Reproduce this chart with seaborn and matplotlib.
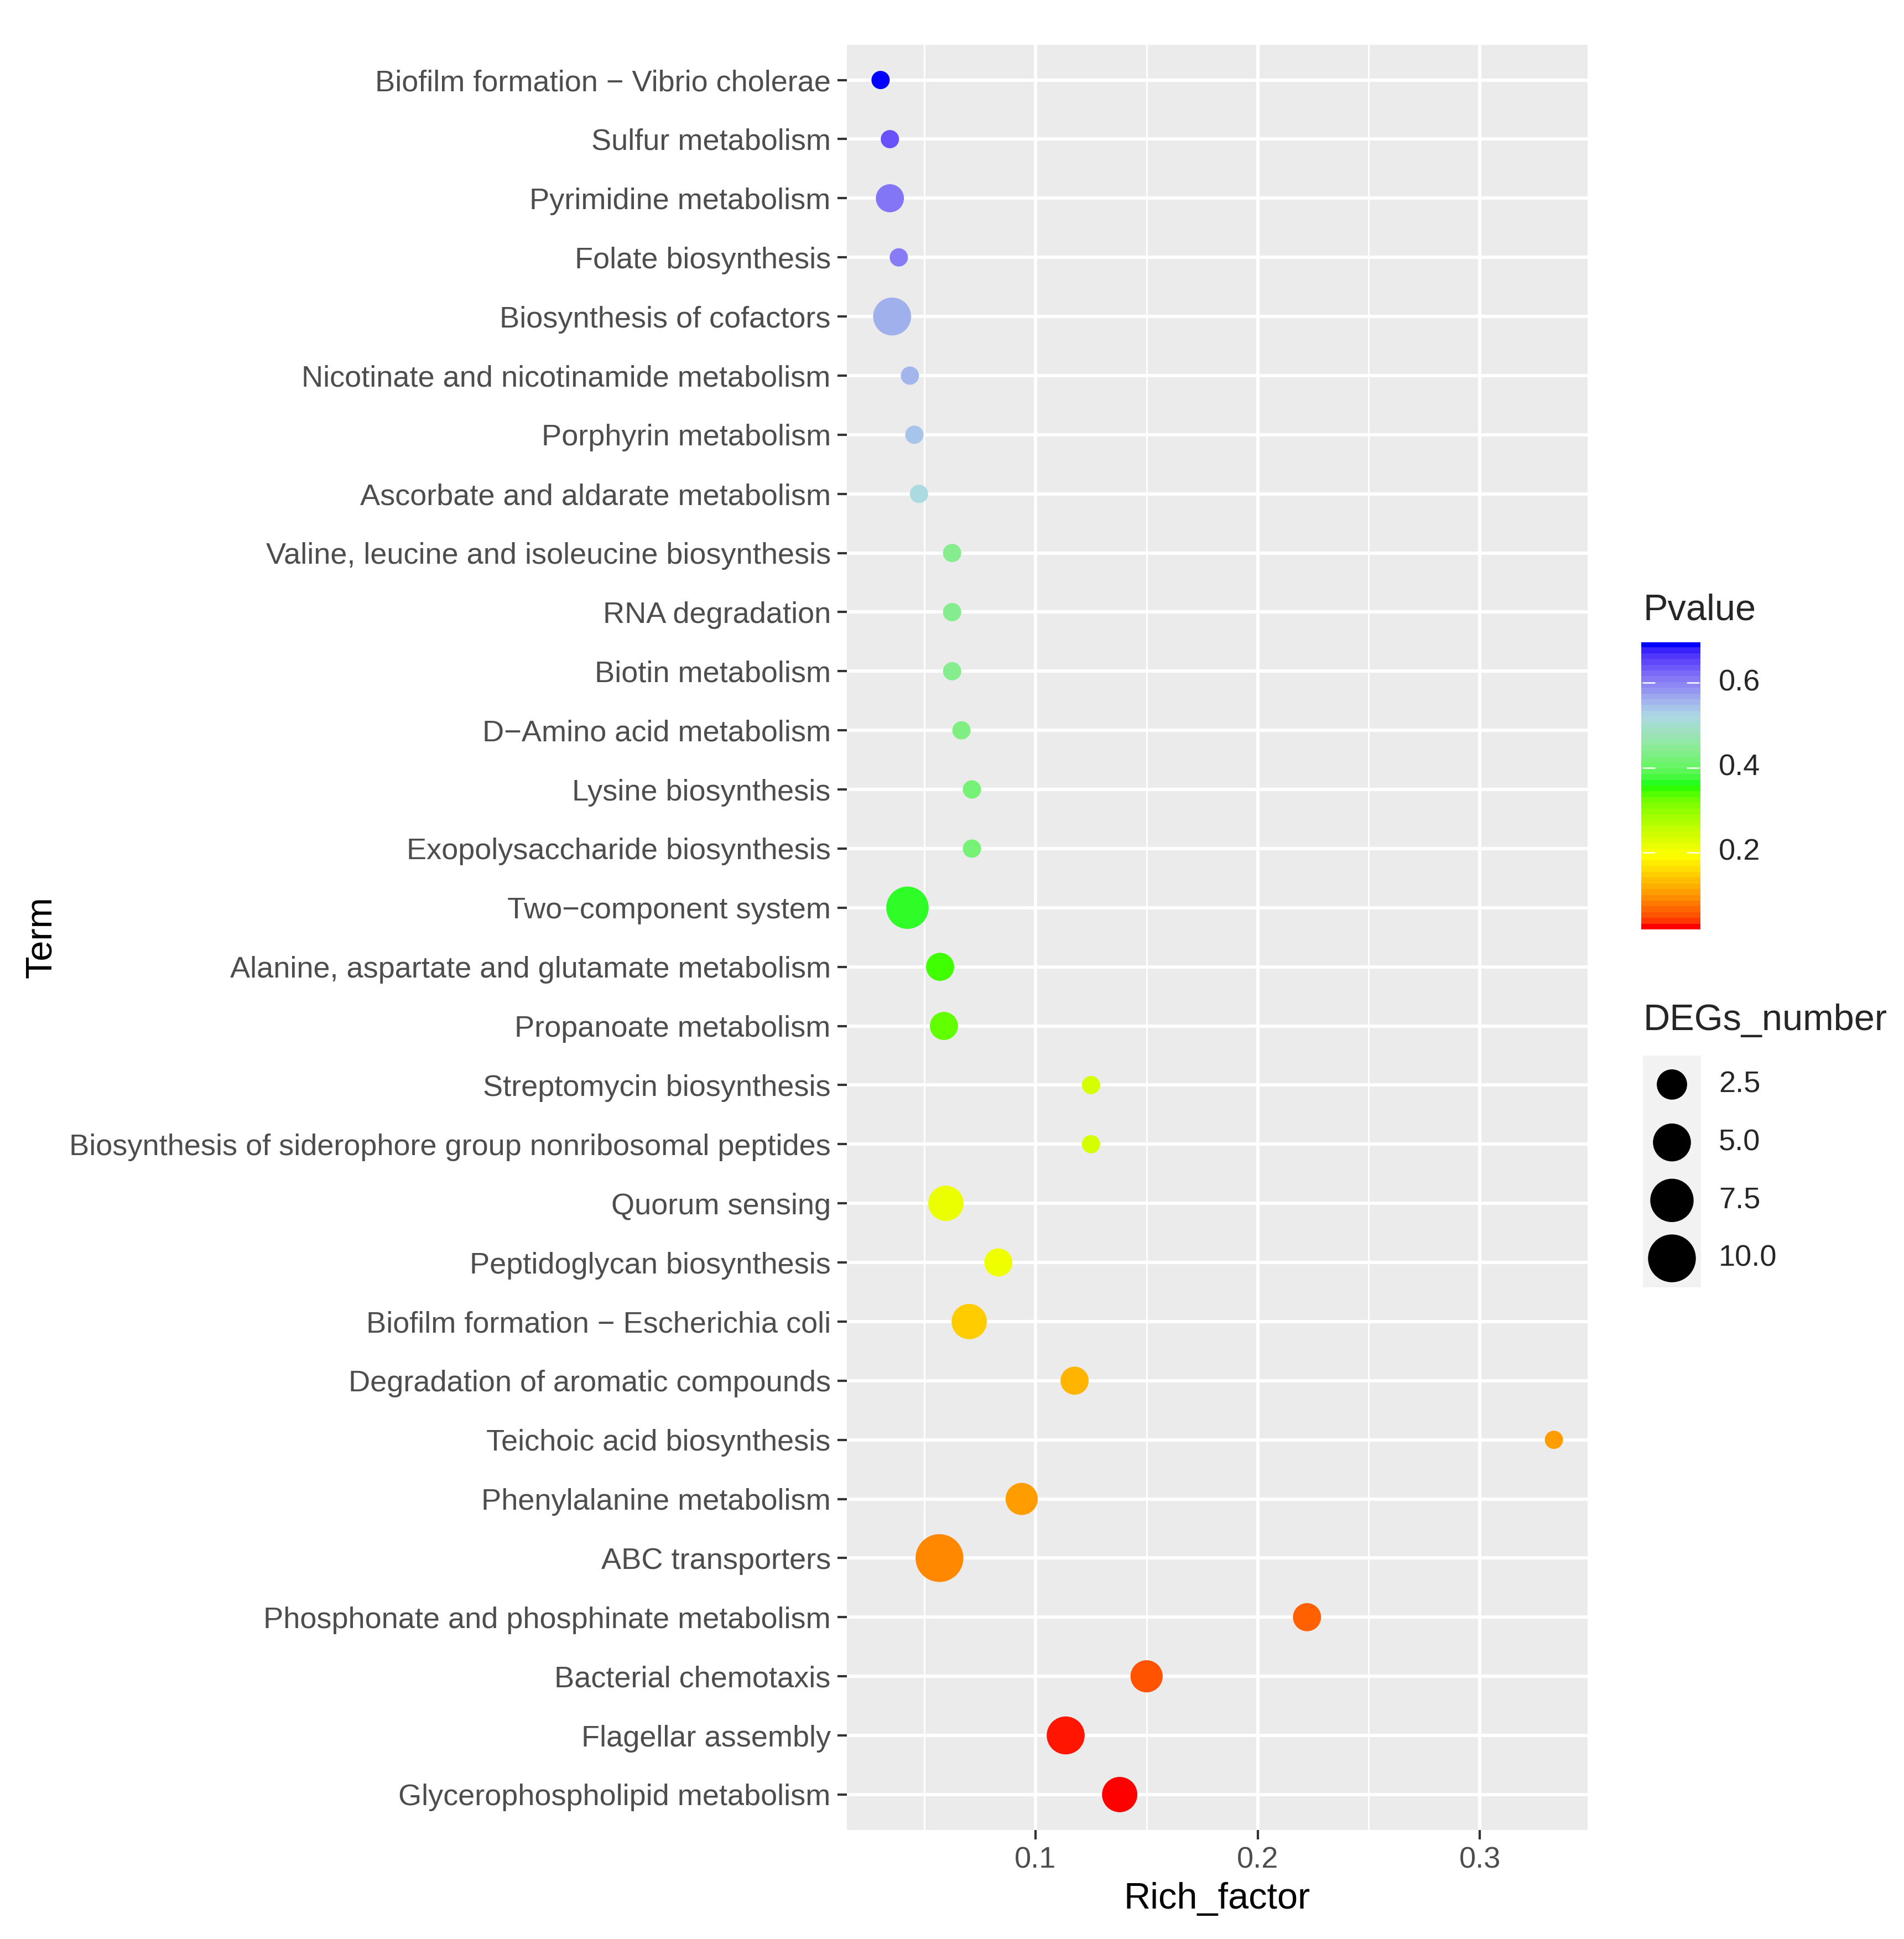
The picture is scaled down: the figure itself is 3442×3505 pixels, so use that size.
import numpy as np
import pandas as pd
import seaborn as sns
import matplotlib
matplotlib.use("Agg")
import matplotlib.pyplot as plt
import matplotlib.colors as mcolors
from matplotlib.ticker import MultipleLocator

# KEGG enrichment bubble chart, terms listed top -> bottom
terms = [
    "Biofilm formation \u2212 Vibrio cholerae",
    "Sulfur metabolism",
    "Pyrimidine metabolism",
    "Folate biosynthesis",
    "Biosynthesis of cofactors",
    "Nicotinate and nicotinamide metabolism",
    "Porphyrin metabolism",
    "Ascorbate and aldarate metabolism",
    "Valine, leucine and isoleucine biosynthesis",
    "RNA degradation",
    "Biotin metabolism",
    "D\u2212Amino acid metabolism",
    "Lysine biosynthesis",
    "Exopolysaccharide biosynthesis",
    "Two\u2212component system",
    "Alanine, aspartate and glutamate metabolism",
    "Propanoate metabolism",
    "Streptomycin biosynthesis",
    "Biosynthesis of siderophore group nonribosomal peptides",
    "Quorum sensing",
    "Peptidoglycan biosynthesis",
    "Biofilm formation \u2212 Escherichia coli",
    "Degradation of aromatic compounds",
    "Teichoic acid biosynthesis",
    "Phenylalanine metabolism",
    "ABC transporters",
    "Phosphonate and phosphinate metabolism",
    "Bacterial chemotaxis",
    "Flagellar assembly",
    "Glycerophospholipid metabolism",
]
rich_factor = [0.0303, 0.0345, 0.0345, 0.0385, 0.0355, 0.0435, 0.0455, 0.0476,
               0.0625, 0.0625, 0.0625, 0.0667, 0.0714, 0.0714, 0.0424, 0.0571,
               0.0588, 0.125, 0.125, 0.0597, 0.0833, 0.0702, 0.1176, 0.3333,
               0.0938, 0.0568, 0.2222, 0.15, 0.1136, 0.1379]
pvalue = [0.696, 0.648, 0.615, 0.61, 0.562, 0.557, 0.543, 0.52,
          0.44, 0.44, 0.44, 0.43, 0.42, 0.42, 0.365, 0.345,
          0.328, 0.235, 0.235, 0.21, 0.205, 0.142, 0.121, 0.10,
          0.098, 0.084, 0.055, 0.045, 0.022, 0.018]
degs = [1, 1, 2, 1, 5, 1, 1, 1, 1, 1, 1, 1, 1, 1, 7, 2, 2, 1, 1, 4,
        2, 4, 2, 1, 3, 10, 2, 3, 5, 4]

size_breaks = [2.5, 5.0, 7.5, 10.0]
p_breaks = [0.2, 0.4, 0.6]
grad_colors = ["#FF0000", "#FFFF00", "#00FF00", "#ADD8E6", "#0000FF"]

df = pd.DataFrame({"Term": terms, "Rich_factor": rich_factor,
                   "Pvalue": pvalue, "DEGs_number": degs})

DPI = 300
W, H = 3442, 3505

# ---- colour ramp interpolated in CIELAB (like ggplot's gradientn) ----
M = np.array([[0.4124564, 0.3575761, 0.1804375],
              [0.2126729, 0.7151522, 0.0721750],
              [0.0193339, 0.1191920, 0.9503041]])
Minv = np.linalg.inv(M)
WHITE = np.array([0.95047, 1.0, 1.08883])
d = 6 / 29


def to_lab(c):
    rgb = np.array(mcolors.to_rgb(c))
    lin = np.where(rgb <= 0.04045, rgb / 12.92, ((rgb + 0.055) / 1.055) ** 2.4)
    t = (M @ lin) / WHITE
    f = np.where(t > d ** 3, np.cbrt(t), t / (3 * d ** 2) + 4 / 29)
    return np.array([116 * f[1] - 16, 500 * (f[0] - f[1]), 200 * (f[1] - f[2])])


def to_rgb(lab):
    fy = (lab[0] + 16) / 116
    f = np.array([fy + lab[1] / 500, fy, fy - lab[2] / 200])
    t = np.where(f > d, f ** 3, 3 * d ** 2 * (f - 4 / 29))
    lin = np.clip(Minv @ (t * WHITE), 0, 1)
    rgb = np.where(lin <= 0.0031308, 12.92 * lin, 1.055 * lin ** (1 / 2.4) - 0.055)
    return np.clip(rgb, 0, 1)


labs = [to_lab(c) for c in grad_colors]
ramp = []
for t in np.linspace(0, 1, 256):
    seg = min(int(t * (len(labs) - 1)), len(labs) - 2)
    u = t * (len(labs) - 1) - seg
    ramp.append(to_rgb(labs[seg] * (1 - u) + labs[seg + 1] * u))
cmap = mcolors.ListedColormap(ramp)
norm = mcolors.Normalize(min(pvalue), max(pvalue))


# point diameter in px, sqrt-area style mapping like scale_size
def marker_area(v):
    dpx = 33 + 17.8 * np.sqrt(max(v - 1, 0))
    return (dpx / (DPI / 72)) ** 2


size_map = {v: marker_area(v) for v in sorted(set(degs))}

# ---- figure ----
sns.set_style("darkgrid", {"axes.facecolor": "#EBEBEB", "grid.color": "white"})
plt.rcParams["font.family"] = ["Liberation Sans", "DejaVu Sans"]

fig = plt.figure(figsize=(W / DPI, H / DPI), dpi=DPI)
ax = fig.add_axes([1531 / W, 1 - 3308 / H, 1339 / W, 3227.5 / H])

sns.scatterplot(data=df, x="Rich_factor", y="Term", hue="Pvalue", size="DEGs_number",
                palette=cmap, hue_norm=norm, sizes=size_map, linewidth=0,
                legend=False, ax=ax, zorder=3)

n = len(terms)
ax.set_ylim(n - 0.4, -0.6)
xr = max(rich_factor) - min(rich_factor)
ax.set_xlim(min(rich_factor) - 0.05 * xr, max(rich_factor) + 0.05 * xr)
ax.xaxis.set_minor_locator(MultipleLocator(0.05))
ax.set_xticks([0.1, 0.2, 0.3])
ax.set_xticklabels(["0.1", "0.2", "0.3"])

ax.grid(which="major", color="white", linewidth=1.45)
ax.grid(which="minor", axis="x", color="white", linewidth=0.72)
ax.set_axisbelow(True)
for s in ax.spines.values():
    s.set_visible(False)

ax.tick_params(axis="both", which="major", length=4, width=1.0, color="#333333",
               labelsize=13, labelcolor="#4D4D4D", pad=3)
ax.tick_params(which="minor", length=0)
ax.tick_params(axis="y", left=True)
ax.tick_params(axis="x", bottom=True)

ax.set_xlabel("Rich_factor", fontsize=16, color="black")
ax.set_ylabel("Term", fontsize=16, color="black")
ax.xaxis.set_label_coords((2200 - 1531) / 1339, (3308 - 3433) / 3227.5)
ax.xaxis.label.set_va("center")
ax.yaxis.set_label_coords((75 - 1531) / 1339, 0.5)
ax.yaxis.label.set_va("center")

# ---- Pvalue colourbar ----
fig.text(2971 / W, 1 - 1121 / H, "Pvalue", fontsize=16, ha="left", va="baseline")
cax = fig.add_axes([2967 / W, 1 - 1680 / H, 107 / W, 519 / H])
bins = np.linspace(norm.vmin, norm.vmax, 50)
cax.imshow(bins[:, None], aspect="auto", cmap=cmap, norm=norm, origin="lower",
           extent=[0, 1, norm.vmin, norm.vmax], interpolation="nearest")
cax.set_xlim(0, 1)
cax.set_ylim(norm.vmin, norm.vmax)
for b in p_breaks:
    cax.plot([0.03, 0.22], [b, b], color="white", lw=0.6)
    cax.plot([0.78, 0.97], [b, b], color="white", lw=0.6)
cax.set_xticks([])
cax.set_yticks([])
for s in cax.spines.values():
    s.set_visible(False)
for b in p_breaks:
    fig.text(3107 / W, cax.transData.transform((0, b))[1] / H, f"{b:.1f}",
             fontsize=13, ha="left", va="center")

# ---- DEGs_number size legend ----
fig.text(2971 / W, 1 - 1862 / H, "DEGs_number", fontsize=16, ha="left", va="baseline")
sax = fig.add_axes([2970 / W, 1 - 2327 / H, 105 / W, 419 / H])
sax.set_facecolor("#F2F2F2")
leg = pd.DataFrame({"x": [0.5] * len(size_breaks), "y": range(len(size_breaks)),
                    "s": [marker_area(v) for v in size_breaks]})
sax.scatter(leg["x"], leg["y"], s=leg["s"], color="black", linewidth=0)
sax.set_xlim(0, 1)
sax.set_ylim(len(size_breaks) - 0.5, -0.5)
sax.grid(False)
sax.set_xticks([])
sax.set_yticks([])
for s in sax.spines.values():
    s.set_visible(False)
for i, v in enumerate(size_breaks):
    fig.text(3107 / W, sax.transData.transform((0, i))[1] / H, f"{v:.1f}",
             fontsize=13, ha="left", va="center")

fig.savefig("out.png", dpi=DPI, facecolor="white")
